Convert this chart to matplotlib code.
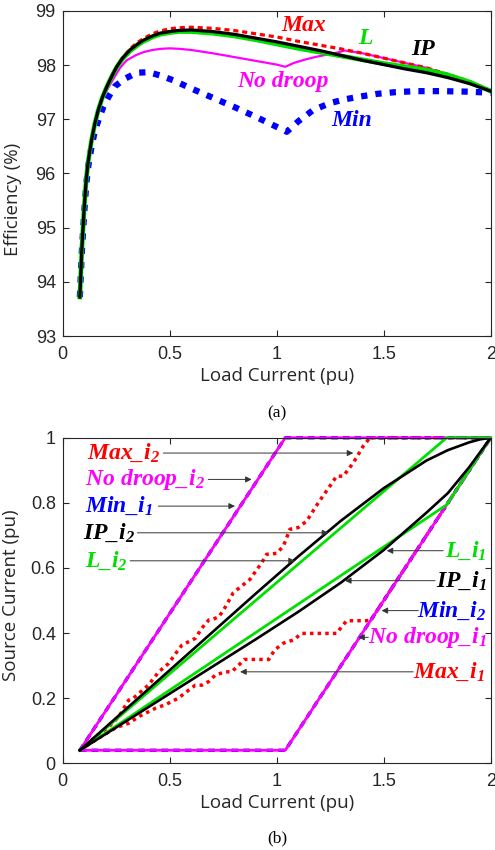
import numpy as np
import matplotlib
matplotlib.use("Agg")
import matplotlib.pyplot as plt

plt.rcParams['font.family'] = ['Liberation Sans', 'DejaVu Sans']
plt.rcParams['mathtext.fontset'] = 'custom'
plt.rcParams['mathtext.it'] = 'Liberation Serif:bold:italic'
plt.rcParams['mathtext.rm'] = 'Liberation Serif:bold:italic'
plt.rcParams['mathtext.bf'] = 'Liberation Serif:bold:italic'

# ---------------- (a) efficiency vs load current ----------------
eff_x = [0.08, 0.09, 0.10, 0.11, 0.12, 0.135, 0.15, 0.166, 0.185, 0.206, 0.23, 0.252, 0.28,
         0.314, 0.35, 0.377, 0.42, 0.455, 0.5, 0.54, 0.6, 0.7, 0.8, 0.9, 1.0, 1.1, 1.2, 1.3,
         1.4, 1.5, 1.6, 1.7, 1.8, 1.9, 2.0]
eff_ip = [93.72, 94.65, 95.35, 95.9, 96.25, 96.62, 96.92, 97.17, 97.4, 97.6, 97.8, 97.97, 98.13,
          98.28, 98.39, 98.46, 98.54, 98.59, 98.62, 98.64, 98.65, 98.62, 98.57, 98.5, 98.43, 98.35,
          98.27, 98.18, 98.09, 98.01, 97.93, 97.86, 97.77, 97.66, 97.52]
eff_max = [93.72, 94.65, 95.35, 95.9, 96.25, 96.62, 96.92, 97.17, 97.4, 97.6, 97.8, 97.97, 98.14,
           98.3, 98.42, 98.49, 98.58, 98.63, 98.67, 98.69, 98.70, 98.68, 98.64, 98.58, 98.52, 98.44,
           98.37, 98.3, 98.22, 98.13, 98.04, 97.95, 97.83, 97.70, 97.53]
eff_l = [93.72, 94.65, 95.35, 95.9, 96.25, 96.62, 96.92, 97.17, 97.4, 97.6, 97.8, 97.96, 98.12,
         98.26, 98.37, 98.44, 98.52, 98.57, 98.6, 98.62, 98.62, 98.59, 98.54, 98.47, 98.39, 98.31,
         98.24, 98.17, 98.1, 98.03, 97.97, 97.91, 97.82, 97.69, 97.52]

nd_x = [0.08, 0.09, 0.10, 0.11, 0.12, 0.135, 0.15, 0.166, 0.185, 0.206, 0.23, 0.268, 0.299, 0.34,
        0.377, 0.42, 0.455, 0.5, 0.548, 0.6, 0.7, 0.8, 0.9, 1.0, 1.04, 1.08, 1.13, 1.18, 1.23, 1.28,
        1.32, 1.4, 1.5, 1.6, 1.7, 1.8, 1.9, 2.0]
eff_nd = [93.72, 94.65, 95.35, 95.9, 96.25, 96.62, 96.92, 97.17, 97.38, 97.53, 97.7, 97.95, 98.09,
          98.18, 98.24, 98.28, 98.30, 98.31, 98.30, 98.28, 98.22, 98.15, 98.08, 98.01, 97.97, 98.04,
          98.1, 98.15, 98.19, 98.23, 98.27, 98.22, 98.13, 98.04, 97.95, 97.83, 97.70, 97.53]

mn_x = [0.08, 0.09, 0.10, 0.11, 0.12, 0.135, 0.15, 0.17, 0.19, 0.215, 0.244, 0.291, 0.346, 0.4,
        0.455, 0.517, 0.6, 0.7, 0.8, 0.9, 1.0, 1.047, 1.1, 1.17, 1.25, 1.32, 1.39, 1.47, 1.55,
        1.65, 1.77, 1.9, 2.0]
eff_min = [93.72, 94.6, 95.25, 95.8, 96.15, 96.5, 96.78, 97.02, 97.23, 97.42, 97.61, 97.75, 97.86,
           97.87, 97.81, 97.72, 97.57, 97.40, 97.23, 97.05, 96.86, 96.77, 96.96, 97.17, 97.3, 97.37,
           97.42, 97.47, 97.5, 97.52, 97.52, 97.51, 97.49]

# ---------------- (b) source currents vs load current ----------------
nd_ix = [0.08, 1.04, 2.0]
nd_i2 = [0.04, 1.0, 1.0]
nd_i1 = [0.04, 0.04, 1.0]
min_i1 = [0.04, 1.0, 1.0]
min_i2 = [0.04, 0.04, 1.0]

l_ix = [0.08, 1.794, 2.0]
l_i2 = [0.04, 1.0, 1.0]
l_i1 = [0.04, 0.794, 1.0]

ip_ix = [0.08, 0.3, 0.5, 0.7, 0.9, 1.1, 1.3, 1.5, 1.7, 1.8, 1.9, 1.95, 2.0]
ip_i2 = [0.04, 0.169, 0.286, 0.403, 0.52, 0.635, 0.745, 0.845, 0.93, 0.962, 0.986, 0.995, 1.0]
ip_i1 = [0.04, 0.131, 0.214, 0.297, 0.38, 0.465, 0.555, 0.655, 0.77, 0.83, 0.91, 0.955, 1.0]

max_i2x = [0.08, 0.15, 0.215, 0.262, 0.308, 0.33, 0.40, 0.449, 0.495, 0.534, 0.557, 0.62, 0.65,
           0.682, 0.70, 0.73, 0.76, 0.797, 0.875, 0.93, 0.953, 1.0, 1.031, 1.062, 1.10, 1.14, 1.194,
           1.249, 1.28, 1.311, 1.358, 1.405, 1.436, 2.0]
max_i2 = [0.04, 0.08, 0.112, 0.143, 0.194, 0.20, 0.24, 0.281, 0.307, 0.343, 0.363, 0.384, 0.415,
          0.44, 0.442, 0.45, 0.48, 0.524, 0.565, 0.616, 0.642, 0.645, 0.667, 0.719, 0.724, 0.744,
          0.80, 0.852, 0.882, 0.882, 0.923, 0.975, 1.0, 1.0]
max_i1x = [0.08, 0.15, 0.20, 0.25, 0.308, 0.36, 0.433, 0.48, 0.54, 0.589, 0.62, 0.65, 0.682, 0.713,
           0.76, 0.79, 0.807, 0.85, 0.963, 0.99, 1.031, 1.078, 1.117, 1.28, 1.304, 1.327, 1.42,
           1.44, 2.0]
max_i1 = [0.04, 0.07, 0.09, 0.11, 0.123, 0.145, 0.169, 0.18, 0.2, 0.225, 0.24, 0.24, 0.251, 0.271,
          0.281, 0.281, 0.292, 0.319, 0.319, 0.348, 0.369, 0.379, 0.399, 0.399, 0.42, 0.438, 0.438,
          0.44, 1.0]

RED, GREEN, BLACK, MAG, BLUE = '#ff0000', '#00e000', '#000000', '#ff00ff', '#0000ff'
AXC = '#262626'

fig = plt.figure(figsize=(4.95, 8.5), dpi=100)
ax1 = fig.add_axes([0.1267, 0.6047, 0.8646, 0.3824])
ax2 = fig.add_axes([0.1267, 0.102, 0.8646, 0.383])

# top panel
ax1.plot(mn_x, eff_min, color=BLUE, lw=4.5, linestyle=(0, (1, 1.3)), dash_capstyle='butt')
ax1.plot(nd_x, eff_nd, color=MAG, lw=1.6)
ax1.plot(eff_x, eff_max, color=RED, lw=2.3, linestyle=(0, (1.6, 1.2)), dash_capstyle='butt')
ax1.plot(eff_x, eff_l, color=GREEN, lw=3.4)
ax1.plot(eff_x, eff_ip, color=BLACK, lw=2.3)

lab = dict(family='Liberation Serif', weight='bold', style='italic', fontsize=17,
           ha='center', va='center')
ax1.text(1.124, 98.74, 'Max', color=RED, **lab)
ax1.text(1.413, 98.49, 'L', color=GREEN, **lab)
ax1.text(1.685, 98.28, 'IP', color=BLACK, **lab)
ax1.text(1.031, 97.69, 'No droop', color=MAG, **lab)
ax1.text(1.35, 96.98, 'Min', color=BLUE, **lab)

ax1.set_xlim(0, 2)
ax1.set_ylim(93, 99)
ax1.set_xticks([0, 0.5, 1, 1.5, 2])
ax1.set_xticklabels(['0', '0.5', '1', '1.5', '2'])
ax1.set_yticks([93, 94, 95, 96, 97, 98, 99])
ax1.set_ylabel('Efficiency (%)', family='Open Sans', fontsize=13.5, color=AXC)
ax1.yaxis.set_label_coords(-0.096, 0.42)
ax1.set_xlabel('Load Current (pu)', family='Open Sans', fontsize=13.5, color=AXC, labelpad=3)

# bottom panel
ax2.plot(max_i2x, max_i2, color=RED, lw=2.5, linestyle=(0, (1, 1.2)), dash_capstyle='butt',
         clip_on=False)
ax2.plot(max_i1x, max_i1, color=RED, lw=2.5, linestyle=(0, (1, 1.2)), dash_capstyle='butt')
ax2.plot(nd_ix, min_i1, color=BLUE, lw=2.4, linestyle=(0, (2, 1.5)), clip_on=False)
ax2.plot(nd_ix, min_i2, color=BLUE, lw=2.4, linestyle=(0, (2, 1.5)))
ax2.plot(nd_ix, nd_i2, color=MAG, lw=2.0, clip_on=False)
ax2.plot(nd_ix, nd_i1, color=MAG, lw=2.0)
ax2.plot(l_ix, l_i2, color=GREEN, lw=2.0, clip_on=False)
ax2.plot(l_ix, l_i1, color=GREEN, lw=2.0)
ax2.plot(ip_ix, ip_i2, color=BLACK, lw=1.9)
ax2.plot(ip_ix, ip_i1, color=BLACK, lw=1.9)

ann = dict(family='Liberation Serif', fontsize=17, va='center')
arrow = dict(arrowstyle='-|>', lw=0.7, color='#333333', mutation_scale=9,
             shrinkA=0, shrinkB=0)
left_labels = [
    (r'$Max\_i_2$', RED, 0.112, 0.953, 0.47, 1.358),
    (r'$No\ droop\_i_2$', MAG, 0.104, 0.872, 0.68, 0.883),
    (r'$Min\_i_1$', BLUE, 0.104, 0.790, 0.447, 0.805),
    (r'$IP\_i_2$', BLACK, 0.096, 0.708, 0.349, 1.241),
    (r'$L\_i_2$', GREEN, 0.104, 0.622, 0.315, 1.085),
]
right_labels = [
    (r'$L\_i_1$', GREEN, 1.981, 0.653, 1.778, 1.514),
    (r'$IP\_i_1$', BLACK, 1.981, 0.561, 1.74, 1.319),
    (r'$Min\_i_2$', BLUE, 1.981, 0.469, 1.662, 1.49),
    (r'$No\ droop\_i_1$', MAG, 1.981, 0.387, 1.428, 1.381),
    (r'$Max\_i_1$', RED, 1.973, 0.281, 1.638, 0.829),
]
for txt, c, tx, ty, x0, x1 in left_labels:
    ax2.text(tx, ty, txt, color=c, ha='left', **ann)
    ax2.annotate('', xy=(x1, ty), xytext=(x0, ty), arrowprops=arrow)
for txt, c, tx, ty, x0, x1 in right_labels:
    ax2.text(tx, ty, txt, color=c, ha='right', **ann)
    ax2.annotate('', xy=(x1, ty), xytext=(x0, ty), arrowprops=arrow)

ax2.set_xlim(0, 2)
ax2.set_ylim(0, 1)
ax2.set_xticks([0, 0.5, 1, 1.5, 2])
ax2.set_xticklabels(['0', '0.5', '1', '1.5', '2'])
ax2.set_yticks([0, 0.2, 0.4, 0.6, 0.8, 1])
ax2.set_yticklabels(['0', '0.2', '0.4', '0.6', '0.8', '1'])
ax2.set_ylabel('Source Current (pu)', family='Open Sans', fontsize=13.5, color=AXC)
ax2.yaxis.set_label_coords(-0.1, 0.515)
ax2.set_xlabel('Load Current (pu)', family='Open Sans', fontsize=13.5, color=AXC, labelpad=3)

for ax in (ax1, ax2):
    ax.tick_params(direction='in', top=True, right=True, length=4, width=0.8,
                   labelsize=13, colors=AXC)
    ax.tick_params(axis='x', pad=7)
    ax.tick_params(axis='y', pad=5)
    for s in ax.spines.values():
        s.set_linewidth(0.8)
        s.set_color(AXC)

fig.text(0.5596, 1 - 413.5 / 850, '(a)', family='Liberation Serif', fontsize=12.5,
         ha='center', va='center')
fig.text(0.5596, 1 - 838.5 / 850, '(b)', family='Liberation Serif', fontsize=12.5,
         ha='center', va='center')

fig.savefig('out.png', dpi=100)
